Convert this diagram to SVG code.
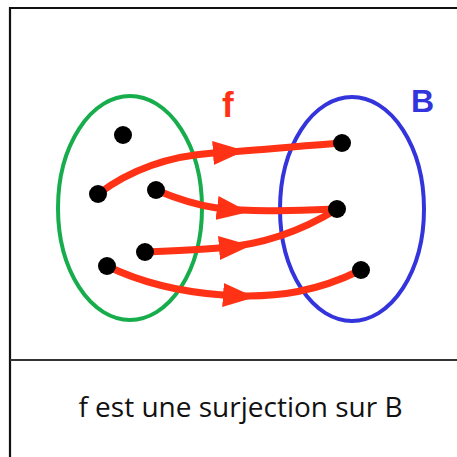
<svg xmlns="http://www.w3.org/2000/svg" width="457" height="457" viewBox="0 0 457 457">
<style>
.frame{stroke:#111;stroke-width:2.2;fill:none}
.sep{stroke:#333;stroke-width:2;fill:none}
.set{fill:none;stroke-width:4}
.dot{fill:#000}
.arr{fill:none;stroke:#ff3215;stroke-width:7;stroke-linecap:round;marker-mid:url(#head)}
.lbl{font-family:"Liberation Sans",Arial,sans-serif;font-weight:bold}
.cap{font-family:"Open Sans","Liberation Sans",sans-serif;font-size:28px;fill:#111}
</style>
<defs>
<marker id="head" markerUnits="userSpaceOnUse" viewBox="0 0 32 24" markerWidth="32" markerHeight="24" refX="0" refY="12" orient="auto">
<path d="M0,0 L32,12 L0,24 Z" fill="#ff3215"/>
</marker>
</defs>
<rect x="0" y="0" width="457" height="457" fill="#fff"/>
<path class="frame" d="M10,457 L10,8 L457,8"/>
<path class="sep" d="M10,360 L457,360"/>
<g id="setA">
<ellipse class="set" cx="130" cy="208" rx="72" ry="112" stroke="#17ad4c"/>
</g>
<g id="setB">
<ellipse class="set" cx="352" cy="209" rx="72" ry="112" stroke="#3434dc"/>
<text class="lbl" x="411" y="112" font-size="32" fill="#3434dc">B</text>
</g>
<g id="label-f">
<text class="lbl" x="222" y="117" font-size="35" fill="#ff3215">f</text>
</g>
<g id="connectors">
<path class="arr" d="M98,194 C130,170 170,156 213,153 C260,150 300,146 342,143"/>
<path class="arr" d="M156,190 C175,198 195,205 217,208 C260,213 300,210 337,209"/>
<path class="arr" d="M145,252 C170,251 195,250 219,248 C260,245 300,232 337,209"/>
<path class="arr" d="M107,266 C140,282 180,292 223,295 C280,299 320,290 361,270"/>
</g>
<g id="a1"><circle class="dot" cx="123" cy="135" r="9"/></g>
<g id="a2"><circle class="dot" cx="98" cy="194" r="9"/></g>
<g id="a3"><circle class="dot" cx="156" cy="190" r="9"/></g>
<g id="a4"><circle class="dot" cx="145" cy="252" r="9"/></g>
<g id="a5"><circle class="dot" cx="107" cy="266" r="9"/></g>
<g id="b1"><circle class="dot" cx="342" cy="143" r="9"/></g>
<g id="b2"><circle class="dot" cx="337" cy="209" r="9"/></g>
<g id="b3"><circle class="dot" cx="361" cy="270" r="9"/></g>
<g id="caption">
<text class="cap" x="240.5" y="417" text-anchor="middle">f est une surjection sur B</text>
</g>
</svg>
